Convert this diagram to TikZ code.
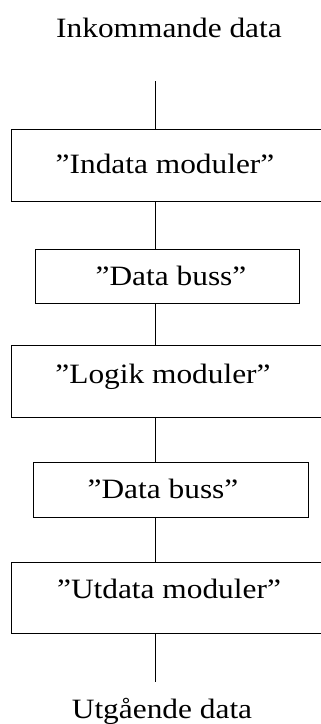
\documentclass[tikz,border=0pt]{standalone}
\usepackage{fontspec}
\setmainfont{Liberation Serif}
\newcommand{\wide}[1]{\scalebox{1.12}[1]{#1}}
\begin{document}
\begin{tikzpicture}[x=1pt,y=-1pt,
  box/.style={draw,line width=1pt,rectangle},
  lbl/.style={anchor=base,inner sep=0pt,font=\fontsize{28}{32}\selectfont},
  conn/.style={line width=1pt}]
\clip (0,0) rectangle (321,724);
\fill[white] (0,0) rectangle (321,724);
% boxes
\node[box,minimum width=320pt,minimum height=72pt,anchor=north west] (b1) at (11,129) {};
\node[box,minimum width=264pt,minimum height=54pt,anchor=north west] (b2) at (35,249) {};
\node[box,minimum width=320pt,minimum height=72pt,anchor=north west] (b3) at (11,345) {};
\node[box,minimum width=275pt,minimum height=55pt,anchor=north west] (b4) at (33,462) {};
\node[box,minimum width=320pt,minimum height=71pt,anchor=north west] (b5) at (11,562) {};
% texts
\node[lbl] (tin) at (169,37) {\wide{Inkommande data}};
\node[lbl] (t1) at (165,173) {\wide{”Indata moduler”}};
\node[lbl] (t2) at (171,285) {\wide{”Data buss”}};
\node[lbl] (t3) at (163,383) {\wide{”Logik moduler”}};
\node[lbl] (t4) at (163,498) {\wide{”Data buss”}};
\node[lbl] (t5) at (169,598) {\wide{”Utdata moduler”}};
\node[lbl] (tout) at (162,718) {\wide{Utgående data}};
% connectors
\coordinate (cin) at (155,81);
\coordinate (cout) at (155,682);
\draw[conn] (cin) -- (cin |- b1.north);
\draw[conn] (cin |- b1.south) -- (cin |- b2.north);
\draw[conn] (cin |- b2.south) -- (cin |- b3.north);
\draw[conn] (cin |- b3.south) -- (cin |- b4.north);
\draw[conn] (cin |- b4.south) -- (cin |- b5.north);
\draw[conn] (cin |- b5.south) -- (cout);
\end{tikzpicture}
\end{document}
